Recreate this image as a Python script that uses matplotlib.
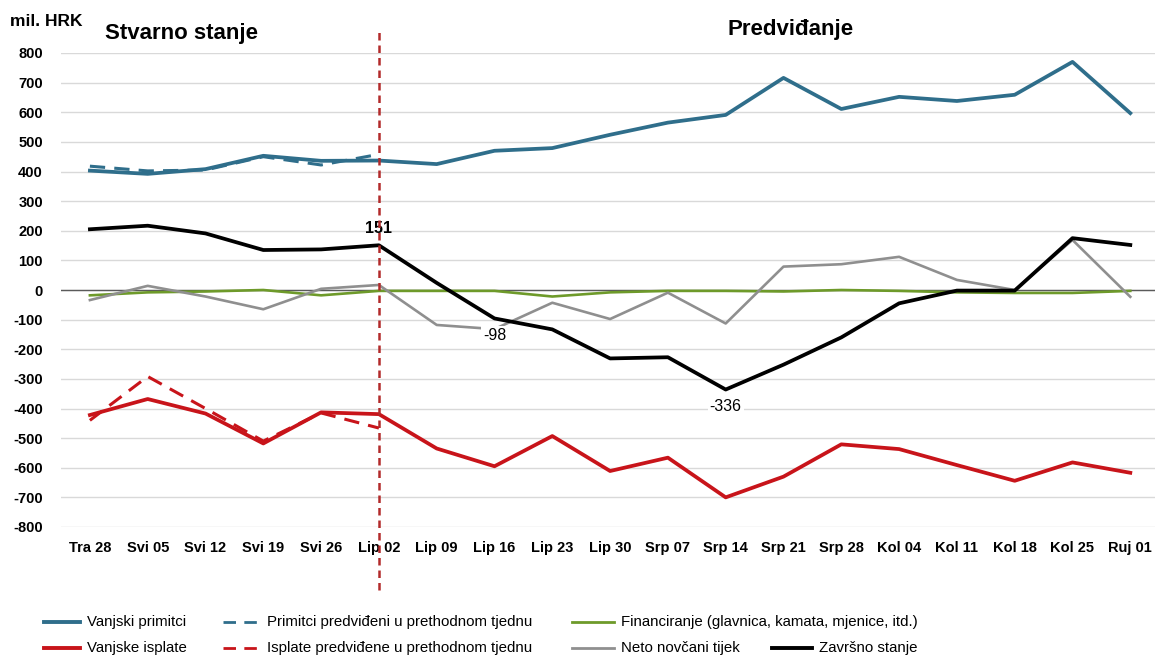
import matplotlib
matplotlib.use("Agg")
import matplotlib.pyplot as plt
from matplotlib.lines import Line2D

plt.rcParams['font.family'] = ['Liberation Sans', 'DejaVu Sans']

categories = ["Tra 28", "Svi 05", "Svi 12", "Svi 19", "Svi 26", "Lip 02", "Lip 09", "Lip 16",
              "Lip 23", "Lip 30", "Srp 07", "Srp 14", "Srp 21", "Srp 28", "Kol 04", "Kol 11",
              "Kol 18", "Kol 25", "Ruj 01"]

vanjski_primitci = [403, 392, 408, 453, 436, 437, 425, 470, 479, 524, 565, 591, 716, 611, 652, 638, 659, 770, 597]
primitci_predvideni = [418, 402, 405, 450, 422, 458]
vanjske_isplate = [-422, -368, -417, -518, -413, -419, -535, -595, -493, -611, -566, -700, -630, -521, -537, -591, -644, -582, -617]
isplate_predvidene = [-440, -292, -400, -510, -415, -466]
financiranje = [-18, -8, -5, 0, -18, -3, -3, -3, -22, -8, -3, -3, -5, 0, -3, -8, -10, -10, -3]
neto_tijek = [-34, 14, -22, -65, 4, 17, -118, -132, -43, -98, -9, -113, 79, 87, 112, 34, 0, 169, -23]
zavrsno_stanje = [205, 217, 191, 135, 137, 151, 24, -96, -133, -231, -227, -336, -252, -160, -45, -2, -2, 175, 152]

annotated = {5: ("151", 1, 'bold'), 7: ("-98", -1, 'normal'), 11: ("-336", -1, 'normal')}
yticks = list(range(-800, 801, 100))

C_BLUE = '#2F6E8B'
C_RED = '#C8141A'
C_GREEN = '#6E9A2A'
C_GRAY = '#8F8F8F'
C_BLACK = '#000000'
C_VLINE = '#B22A2A'

fig = plt.figure(figsize=(11.55, 6.61), dpi=100)
ax = fig.add_axes([61/1155, 1-527/661, (1155-61)/1155, (527-53)/661])

x = list(range(len(categories)))
xp = x[:len(primitci_predvideni)]

ax.plot(x, financiranje, color=C_GREEN, lw=1.9, zorder=3)
ax.plot(x, neto_tijek, color=C_GRAY, lw=1.9, zorder=3)
ax.plot(x, vanjski_primitci, color=C_BLUE, lw=2.7, zorder=4)
ax.plot(x, vanjske_isplate, color=C_RED, lw=2.7, zorder=4)
ax.plot(xp, primitci_predvideni, color=C_BLUE, lw=2.2, zorder=5, dashes=(5, 3))
ax.plot(xp, isplate_predvidene, color=C_RED, lw=2.2, zorder=5, dashes=(5, 3))
ax.plot(x, zavrsno_stanje, color=C_BLACK, lw=2.7, zorder=6)

ax.axhline(0, color='#5A5A5A', lw=1.0, zorder=2)

ax.set_xlim(-0.5, -0.5 + 1094/57.8)
ax.set_ylim(-800, 800)
ax.set_yticks(yticks)
ax.set_yticklabels([str(v) for v in yticks], fontweight='bold', fontsize=10.5)
ax.set_xticks(x)
ax.set_xticklabels(categories, fontweight='bold', fontsize=10.5)
ax.tick_params(axis='both', length=0)
ax.tick_params(axis='y', pad=13)
ax.tick_params(axis='x', pad=10)
ax.grid(axis='y', color='#D9D9D9', lw=1.0, zorder=0)
ax.set_axisbelow(True)
for s in ax.spines.values():
    s.set_visible(False)

ax.axvline(5, ymin=-0.133, ymax=1.048, color=C_VLINE, lw=1.8, dashes=(3, 2), clip_on=False, zorder=7)

for i, (txt, d, w) in annotated.items():
    ax.annotate(txt, (i, zavrsno_stanje[i]), xytext=(0, 12 * d), textcoords='offset points',
                ha='center', va='center', fontsize=11.5, fontweight=w, zorder=5.5,
                bbox=dict(fc='white', ec='none', pad=1.5) if d < 0 else None)

fig.text(10/1155, 1-22/661, "mil. HRK", fontsize=12.5, fontweight='bold', va='center', ha='left')
fig.text(105/1155, 1-33/661, "Stvarno stanje", fontsize=16, fontweight='bold', va='center', ha='left')
fig.text(791/1155, 1-30/661, "Predviđanje", fontsize=16, fontweight='bold', va='center', ha='center')

# legend (Excel-like flow layout)
legend_items = [
    (44, 80, 622, C_BLUE, 2.8, None, "Vanjski primitci"),
    (223, 260, 622, C_BLUE, 2.0, (4.5, 3), "Primitci predviđeni u prethodnom tjednu"),
    (572, 614, 622, C_GREEN, 2.0, None, "Financiranje (glavnica, kamata, mjenice, itd.)"),
    (44, 80, 648, C_RED, 2.8, None, "Vanjske isplate"),
    (223, 260, 648, C_RED, 2.0, (4.5, 3), "Isplate predviđene u prethodnom tjednu"),
    (572, 614, 648, C_GRAY, 2.0, None, "Neto novčani tijek"),
    (772, 812, 648, C_BLACK, 2.8, None, "Završno stanje"),
]
for lx0, lx1, ly, c, lw, dsh, label in legend_items:
    kw = dict(color=c, lw=lw, transform=fig.transFigure)
    if dsh:
        kw['dashes'] = dsh
    fig.add_artist(Line2D([lx0/1155, lx1/1155], [1-ly/661, 1-ly/661], **kw))
    fig.text((lx1+7)/1155, 1-ly/661, label, fontsize=10.8, va='center', ha='left')

fig.savefig("out.png", dpi=100, facecolor='white')
